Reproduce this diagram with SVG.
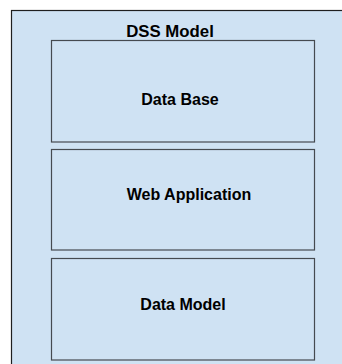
<svg xmlns="http://www.w3.org/2000/svg" width="342" height="364" viewBox="0 0 342 364">
<style>
.bg{fill:#cfe2f3;stroke:#1f1f1f;stroke-width:1.2}
.box{fill:#cfe2f3;stroke:#454a50;stroke-width:1.2}
.t{font-family:"Liberation Sans",Arial,sans-serif;font-weight:bold;font-size:16px;fill:#000;text-anchor:middle}
</style>
<rect width="342" height="364" fill="#ffffff"/>
<g id="dss-model">
<rect class="bg" x="11.5" y="10.5" width="340" height="360"/>
<text class="t" x="170" y="36.5" style="font-size:16.8px">DSS Model</text>
</g>
<g id="data-base">
<rect class="box" x="51.5" y="40.5" width="263" height="101.5"/>
<text class="t" x="180" y="104.5">Data Base</text>
</g>
<g id="web-application">
<rect class="box" x="51.5" y="149.5" width="263" height="100.5"/>
<text class="t" x="189" y="199.5">Web Application</text>
</g>
<g id="data-model">
<rect class="box" x="51.5" y="258.5" width="263" height="101.5"/>
<text class="t" x="183" y="309.5">Data Model</text>
</g>
<g id="connectors"></g>
</svg>
